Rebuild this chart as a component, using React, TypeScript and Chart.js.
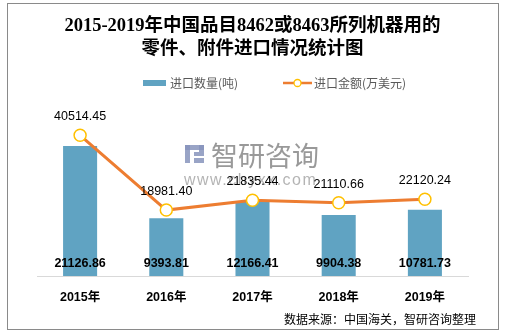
import React, { useEffect, useRef } from "react";
import { Chart, registerables } from "chart.js";

Chart.register(...registerables);

const categories = ["2015年", "2016年", "2017年", "2018年", "2019年"];
const quantity = [21126.86, 9393.81, 12166.41, 9904.38, 10781.73];
const amount = [40514.45, 18981.4, 21835.44, 21110.66, 22120.24];
const titleLines = ["2015-2019年中国品目8462或8463所列机器用的", "零件、附件进口情况统计图"];
const legendNames = ["进口数量(吨)", "进口金额(万美元)"];
const sourceText = "数据来源：中国海关，智研咨询整理";
const watermarkName = "智研咨询";
const watermarkUrl = "www.chyxx.com";

const BAR_COLOR = "#60a3c2";
const LINE_COLOR = "#ed7d31";
const MARKER_COLOR = "#ffc000";
const CJK = "'Noto Sans CJK SC'";

const decorPlugin = {
  id: "decor",
  beforeDraw(chart: any) {
    const ctx = chart.ctx as CanvasRenderingContext2D;
    ctx.save();
    ctx.fillStyle = "#ffffff";
    ctx.fillRect(0, 0, chart.width, chart.height);
    ctx.strokeStyle = "#8a8a8a";
    ctx.lineWidth = 1;
    ctx.strokeRect(7.5, 3.5, 491, 326);

    // title
    ctx.fillStyle = "#000";
    ctx.textAlign = "center";
    ctx.textBaseline = "middle";
    ctx.font = `bold 18.5px 'Liberation Serif', ${CJK}`;
    ctx.fillText(titleLines[0], 252.5, 26);
    ctx.fillText(titleLines[1], 252.5, 49);

    // legend
    ctx.fillStyle = BAR_COLOR;
    ctx.fillRect(143, 80, 23, 6);
    ctx.font = `12px ${CJK}`;
    ctx.fillStyle = "#595959";
    ctx.textAlign = "left";
    ctx.fillText(legendNames[0], 170, 83);
    ctx.strokeStyle = LINE_COLOR;
    ctx.lineWidth = 2.5;
    ctx.beginPath();
    ctx.moveTo(283, 83);
    ctx.lineTo(312, 83);
    ctx.stroke();
    ctx.beginPath();
    ctx.arc(297.5, 83, 3.5, 0, Math.PI * 2);
    ctx.fillStyle = "#fff";
    ctx.fill();
    ctx.strokeStyle = MARKER_COLOR;
    ctx.lineWidth = 1.3;
    ctx.stroke();
    ctx.fillStyle = "#595959";
    ctx.fillText(legendNames[1], 314, 83);
    ctx.restore();
  },
  afterDatasetsDraw(chart: any) {
    const ctx = chart.ctx as CanvasRenderingContext2D;
    ctx.save();
    // watermark
    ctx.fillStyle = "rgba(135,148,188,0.85)";
    ctx.fillRect(185, 145, 5, 18);
    ctx.fillRect(185, 145, 19, 5);
    ctx.fillRect(199, 145, 5, 11);
    ctx.fillRect(194, 152, 5, 4);
    ctx.fillRect(194, 158, 10, 5);
    ctx.fillStyle = "rgba(128,128,128,0.8)";
    ctx.textAlign = "left";
    ctx.textBaseline = "middle";
    ctx.font = `27px ${CJK}`;
    ctx.fillText(watermarkName, 211, 156);
    ctx.fillStyle = "rgba(140,140,140,0.65)";
    ctx.font = "16px 'Liberation Sans'";
    (ctx as any).letterSpacing = "1.5px";
    ctx.fillText(watermarkUrl, 184, 181);
    (ctx as any).letterSpacing = "0px";

    // labels
    ctx.textAlign = "center";
    ctx.fillStyle = "#000";
    const barMeta = chart.getDatasetMeta(0);
    ctx.font = "bold 12.5px 'Liberation Sans'";
    barMeta.data.forEach((el: any, i: number) => {
      ctx.fillText(quantity[i].toFixed(2), el.x, 264);
    });
    const lineMeta = chart.getDatasetMeta(1);
    ctx.font = "12.5px 'Liberation Sans'";
    lineMeta.data.forEach((el: any, i: number) => {
      ctx.fillText(amount[i].toFixed(2), el.x, el.y - 18.5);
    });
    ctx.restore();
  },
  afterDraw(chart: any) {
    const ctx = chart.ctx as CanvasRenderingContext2D;
    ctx.save();
    ctx.fillStyle = "#000";
    ctx.textAlign = "right";
    ctx.textBaseline = "middle";
    ctx.font = `12px ${CJK}`;
    ctx.fillText(sourceText, 476, 319);
    ctx.restore();
  },
};

export default function App() {
  const ref = useRef<HTMLCanvasElement | null>(null);
  useEffect(() => {
    document.body.style.margin = "0";
    if (!ref.current) return;
    const chart = new Chart(ref.current, {
      type: "bar",
      data: {
        labels: categories,
        datasets: [
          {
            type: "bar",
            label: legendNames[0],
            data: quantity,
            backgroundColor: BAR_COLOR,
            yAxisID: "y",
            categoryPercentage: 1,
            barPercentage: 0.395,
            order: 2,
          },
          {
            type: "line",
            label: legendNames[1],
            data: amount,
            borderColor: LINE_COLOR,
            borderWidth: 3,
            pointRadius: 6,
            pointBackgroundColor: "#fff",
            pointBorderColor: MARKER_COLOR,
            pointBorderWidth: 1.5,
            tension: 0,
            yAxisID: "y1",
            order: 1,
          } as any,
        ],
      },
      options: {
        responsive: false,
        animation: false,
        devicePixelRatio: 1,
        layout: { padding: { top: 100, left: 37, right: 37, bottom: 29 } },
        plugins: {
          legend: { display: false },
          title: { display: false },
          tooltip: { enabled: false },
        },
        scales: {
          x: {
            grid: { display: false },
            border: { display: true, color: "#d9d9d9", width: 1 },
            ticks: {
              color: "#000",
              padding: 6,
              font: { family: `'Liberation Sans', ${CJK}`, size: 12.5, weight: "bold" },
            },
            afterFit: (scale: any) => {
              scale.height = 30;
            },
          },
          y: { display: false, min: 0, max: 28600 },
          y1: { display: false, min: 0, max: 50680, position: "right" },
        },
      },
      plugins: [decorPlugin],
    });
    return () => chart.destroy();
  }, []);
  return (
    <div style={{ width: 505, height: 335 }}>
      <canvas ref={ref} width={505} height={335} style={{ display: "block" }} />
    </div>
  );
}
